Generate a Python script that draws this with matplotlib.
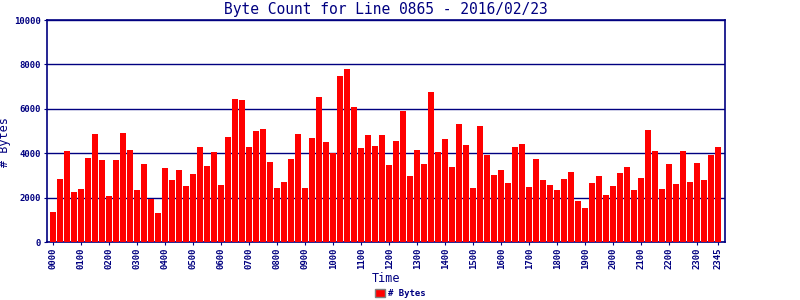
import numpy as np
import matplotlib
matplotlib.use("Agg")
import matplotlib.pyplot as plt

# byte counts per 15 min slot (thousands)
byte_counts = [
    1.35, 2.84, 4.10, 2.25, 2.39, 3.78, 4.86, 3.69, 2.07, 3.69, 4.91, 4.14,
    2.34, 3.51, 1.95, 1.31, 3.33, 2.79, 3.24, 2.52, 3.06, 4.28, 3.42, 4.05,
    2.57, 4.73, 6.44, 6.40, 4.28, 5.00, 5.09, 3.60, 2.43, 2.70, 3.74, 4.86,
    2.43, 4.68, 6.53, 4.50, 4.01, 7.48, 7.79, 6.08, 4.23, 4.82, 4.32, 4.82,
    3.47, 4.55, 5.90, 2.97, 4.14, 3.51, 6.76, 4.05, 4.64, 3.38, 5.32, 4.37,
    2.43, 5.23, 3.92, 3.02, 3.24, 2.66, 4.28, 4.41, 2.48, 3.74, 2.79, 2.57,
    2.34, 2.84, 3.15, 1.85, 1.53, 2.66, 2.97, 2.12, 2.52, 3.11, 3.38, 2.34,
    2.88, 5.05, 4.10, 2.39, 3.51, 2.61, 4.10, 2.70, 3.56, 2.79, 3.92, 4.28,
]
byte_counts = [v * 1000 for v in byte_counts]

slots = ["%02d%02d" % (h, m) for h in range(24) for m in (0, 15, 30, 45)]
tick_idx = list(range(0, 96, 4)) + [95]
y_ticks = [0, 2000, 4000, 6000, 8000, 10000]

navy = "#000080"
mono = "DejaVu Sans Mono"

fig = plt.figure(figsize=(8, 3), dpi=100)
ax = fig.add_axes([0.0584, 0.1933, 0.8482, 0.74])

x = np.arange(len(byte_counts))
ax.bar(x, byte_counts, width=0.86, color="#ff0000", zorder=3, label="# Bytes")

ax.set_xlim(-0.95, 96)
ax.set_ylim(0, 10000)
ax.set_yticks(y_ticks)
ax.set_yticklabels([str(v) for v in y_ticks], fontsize=6.5, fontweight="bold",
                   family=mono, color=navy)
ax.set_xticks(tick_idx)
ax.set_xticklabels([slots[i] for i in tick_idx], rotation=90, fontsize=6.5,
                   fontweight="bold", family=mono, color=navy)
ax.tick_params(axis="both", length=2, color=navy, pad=2)
ax.yaxis.grid(True, color=navy, linewidth=1.0, zorder=1)
for s in ax.spines.values():
    s.set_color(navy)
    s.set_linewidth(1.2)

ax.set_title("Byte Count for Line 0865 - 2016/02/23", fontsize=10.5,
             family=mono, color=navy, pad=4)
ax.set_ylabel("# Bytes", fontsize=8.5, family=mono, color=navy)
ax.yaxis.set_label_coords(-0.052, 0.45)
ax.set_xlabel("Time", fontsize=8.5, family=mono, color=navy, labelpad=2)

leg = fig.legend(loc="lower center", bbox_to_anchor=(0.5, -0.02), frameon=False,
                 prop={"family": mono, "size": 6.5, "weight": "bold"},
                 handlelength=1.1, handleheight=0.9, handletextpad=0.3)
for t in leg.get_texts():
    t.set_color(navy)
for p in leg.get_patches():
    p.set_edgecolor("#808080")

fig.savefig("out.png", dpi=100)
